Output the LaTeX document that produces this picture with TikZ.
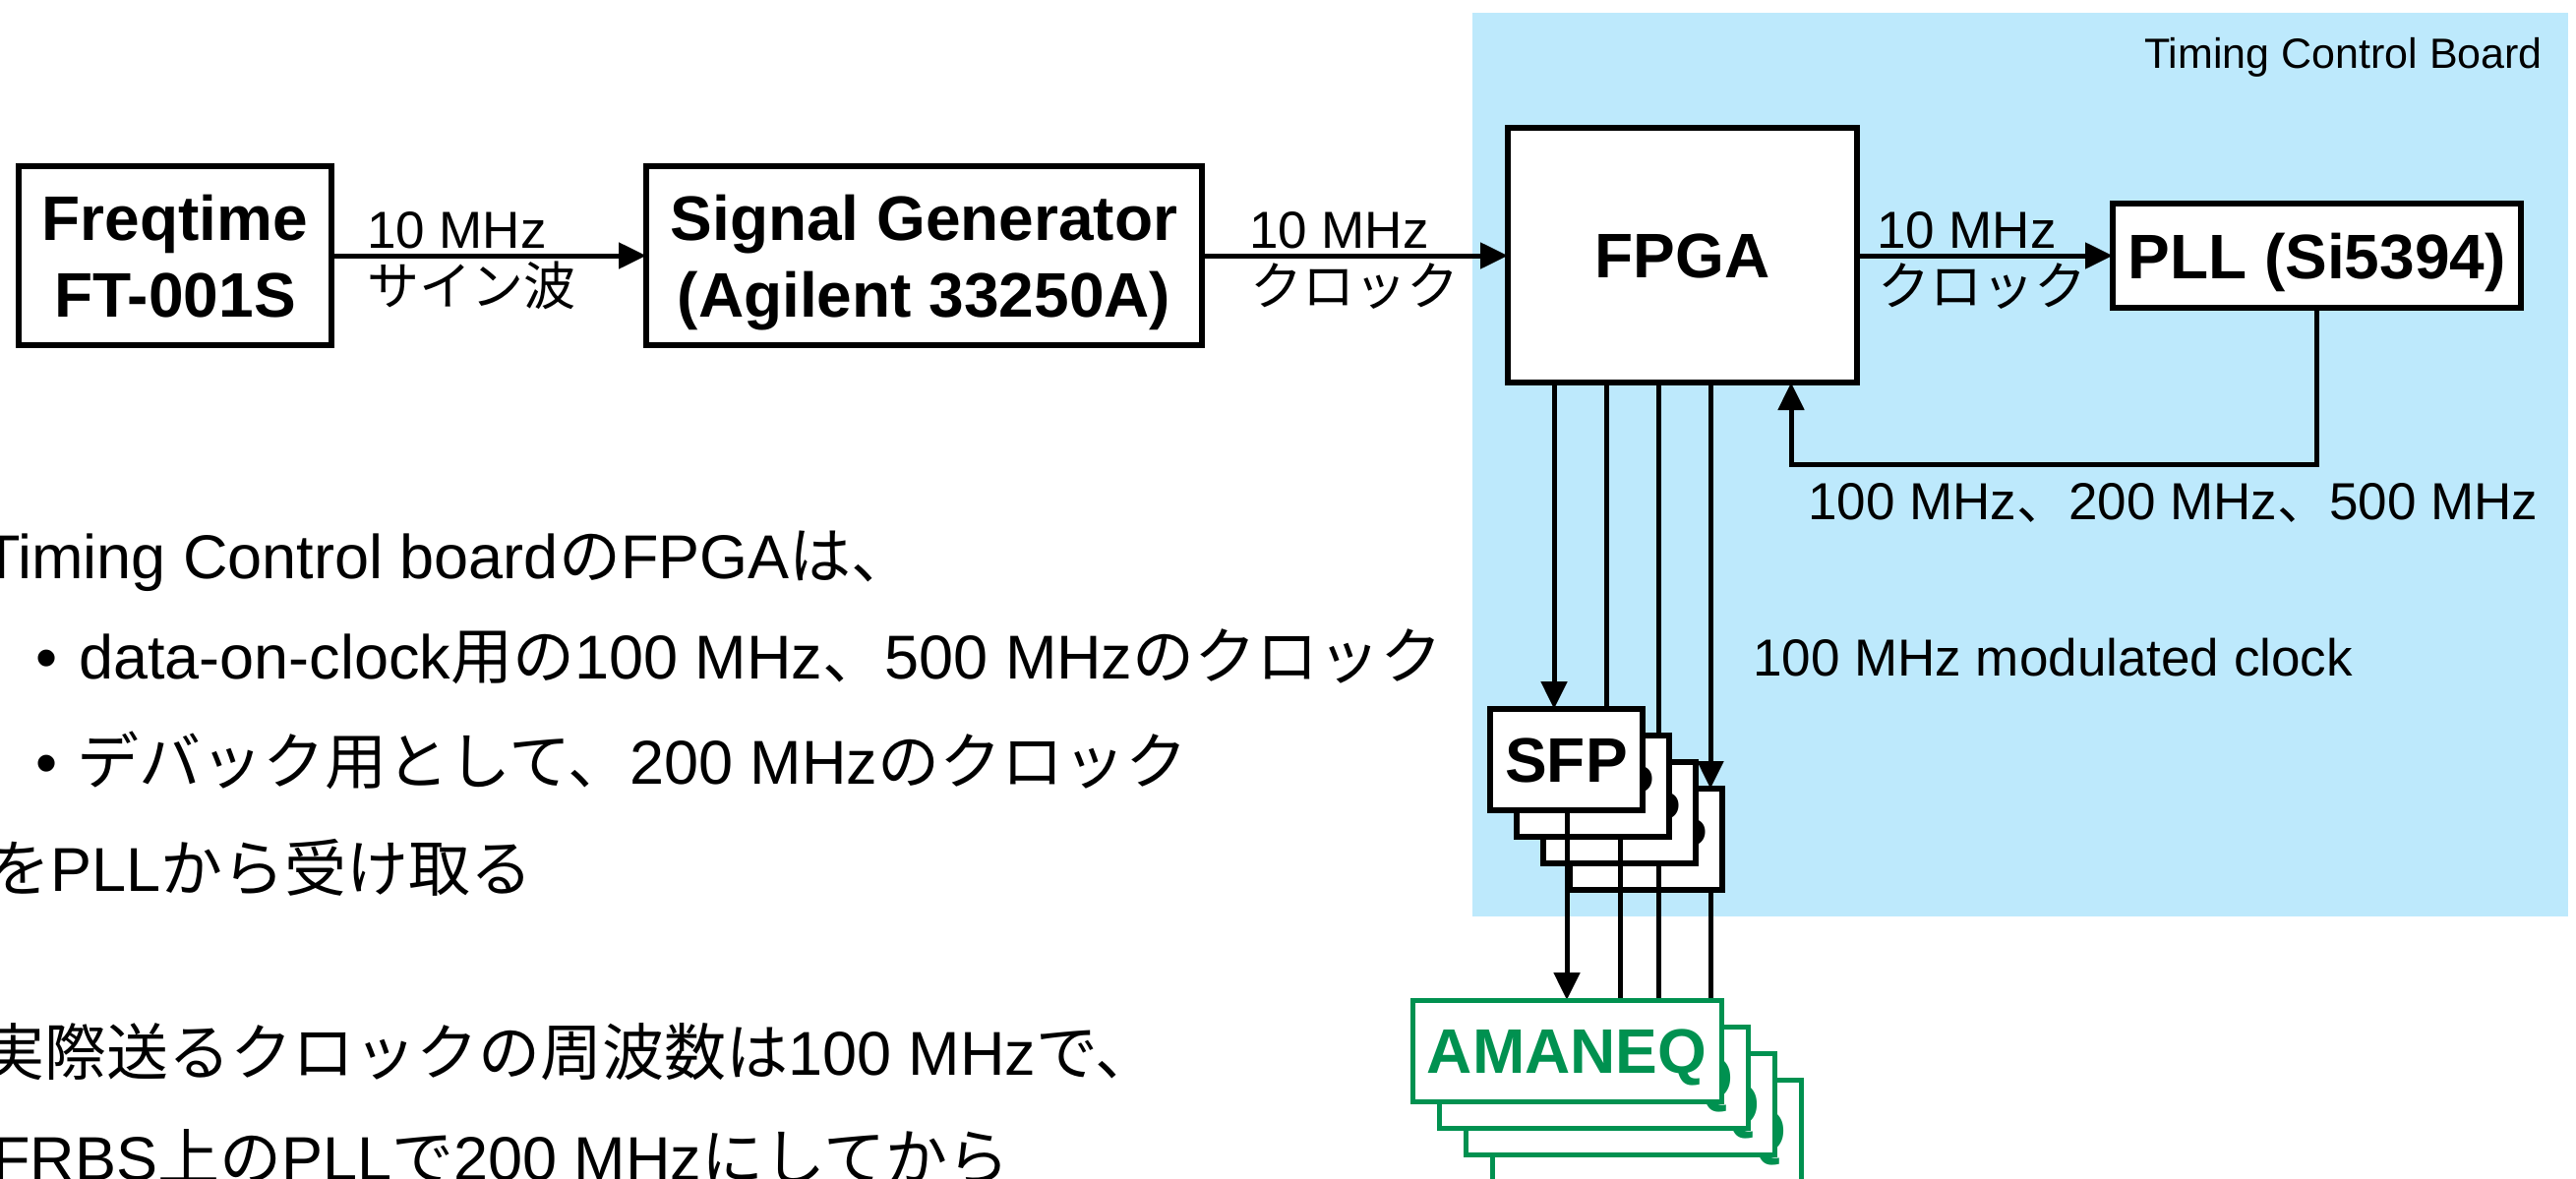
\documentclass[tikz,border=0pt]{standalone}
\usepackage{fontspec}
\setmainfont{Liberation Sans}
\newfontfamily\jp{Noto Sans CJK JP}
\usetikzlibrary{arrows.meta,calc}
\definecolor{boardblue}{RGB}{189,233,252}
\definecolor{amgreen}{RGB}{0,145,80}
\newcommand{\J}[1]{{\jp #1}}
\newcommand{\capline}[1]{\raisebox{0pt}[46pt][0pt]{#1}}
\pgfdeclarelayer{bg}
\pgfdeclarelayer{linesA}
\pgfdeclarelayer{linesB}
\pgfdeclarelayer{front}
\pgfsetlayers{bg,linesA,main,linesB,front}
\begin{document}
\begin{tikzpicture}[x=1pt,y=-1pt,
  box/.style={draw, line width=5.5pt, fill=white, inner sep=0pt, outer sep=0pt,
    font=\fontsize{64}{78}\selectfont\bfseries, align=center},
  sfpbox/.style={box, minimum width=155pt, minimum height=103pt},
  ambox/.style={draw=amgreen, line width=5pt, fill=white, text=amgreen, inner sep=0pt, outer sep=0pt,
    minimum width=314pt, minimum height=103pt, font=\fontsize{64}{78}\selectfont\bfseries},
  arr/.style={line width=5pt, -{Triangle[length=28pt,width=26pt]}},
  lbl/.style={font=\fontsize{53}{62}\selectfont, inner sep=0pt, anchor=base west},
  midlbl/.style={font=\fontsize{53}{62}\selectfont, inner sep=0pt, anchor=base west},
  txt/.style={font=\fontsize{63}{75}\selectfont, inner sep=0pt, anchor=base west}]
\useasboundingbox (0,0) rectangle (2619,1199);

% board background
\begin{pgfonlayer}{bg}
\node[fill=boardblue, inner sep=0pt, outer sep=0pt, minimum width=1114pt, minimum height=919pt] (board) at (2054,472.5) {};
\end{pgfonlayer}
\node[anchor=base east, inner sep=0pt, font=\fontsize{43}{50}\selectfont] (boardtitle) at (2585,70) {Timing Control Board};

% main chain
\node[box, minimum width=318pt, minimum height=182pt] (freq) at (178,260) {\capline{Freqtime}\\\capline{FT-001S}};
\node[box, minimum width=565pt, minimum height=182pt] (sg) at (939.5,260) {\capline{Signal Generator}\\\capline{(Agilent 33250A)}};
\node[box, minimum width=355pt, minimum height=259pt] (fpga) at (1710.5,259.5) {\capline{FPGA}};
\node[box, minimum width=415pt, minimum height=106pt] (pll) at (2355.5,260) {\capline{PLL (Si5394)}};

\draw[arr] (freq.east) -- (sg.west);
\draw[arr] (sg.east) -- (sg.east -| fpga.west);
\draw[arr] (fpga.east |- pll.west) -- (pll.west);

\node[lbl] (l1a) at (373,252) {10 MHz};
\node[lbl] (l1b) at (373,310) {\J{サイン波}};
\node[lbl] (l2a) at (1270,252) {10 MHz};
\node[lbl] (l2b) at (1271,310) {\J{クロック}};
\node[lbl] (l3a) at (1908,252) {10 MHz};
\node[lbl] (l3b) at (1909,310) {\J{クロック}};

% feedback
\coordinate (fbturn) at (1821,472);
\draw[arr] (pll.south) |- (fbturn) -- (fbturn |- fpga.south);
\node[midlbl] (fblbl) at (1838,528) {100 MHz\J{、}200 MHz\J{、}500 MHz};
\node[midlbl] (modlbl) at (1782,687) {100 MHz modulated clock};

% SFP stack
\foreach \k in {3,2,1,0} {
  \node[sfpbox] (sfp\k) at ({1592.5+27*\k},{772.5+27*\k}) {\capline{SFP}};
}
\begin{pgfonlayer}{linesA}
\draw[arr] ([xshift=47pt]fpga.south west) -- ([xshift=65pt]sfp0.north west);
\draw[arr] ([xshift=100pt]fpga.south west) -- ([xshift=91pt]sfp1.north west);
\draw[arr] ([xshift=153pt]fpga.south west) -- ([xshift=117pt]sfp2.north west);
\draw[arr] ([xshift=206pt]fpga.south west) -- ([xshift=143pt]sfp3.north west);
\end{pgfonlayer}

% AMANEQ stack
\begin{pgfonlayer}{front}
\foreach \k in {3,2,1,0} {
  \node[ambox] (am\k) at ({1593+27*\k},{1068.5+27*\k}) {\capline{AMANEQ}};
}
\end{pgfonlayer}
\begin{pgfonlayer}{linesB}
\draw[arr] ([xshift=78pt]sfp0.south west) -- ([xshift=157pt]am0.north west);
\draw[arr] ([xshift=105pt]sfp1.south west) -- ([xshift=184pt]am1.north west);
\draw[arr] ([xshift=117pt]sfp2.south west) -- ([xshift=196pt]am2.north west);
\draw[arr] ([xshift=143pt]sfp3.south west) -- ([xshift=222pt]am3.north west);
\end{pgfonlayer}

% left text
\node[txt] (t1) at (-18,588) {Timing Control board\J{の}FPGA\J{は、}};
\node[txt] (b1) at (36,690) {\textbullet};
\node[txt] (t2) at (80,690) {data-on-clock\J{用の}100 MHz\J{、}500 MHz\J{のクロック}};
\node[txt] (b2) at (36,797) {\textbullet};
\node[txt] (t3) at (78,797) {\J{デバック用として、}200 MHz\J{のクロック}};
\node[txt] (t4) at (-12,906) {\J{を}PLL\J{から受け取る}};
\node[txt] (t5) at (-18,1093) {\J{実際送るクロックの周波数は}100 MHz\J{で、}};
\node[txt] (t6) at (-8,1200) {FRBS\J{上の}PLL\J{で}200 MHz\J{にしてから}};
\end{tikzpicture}
\end{document}
